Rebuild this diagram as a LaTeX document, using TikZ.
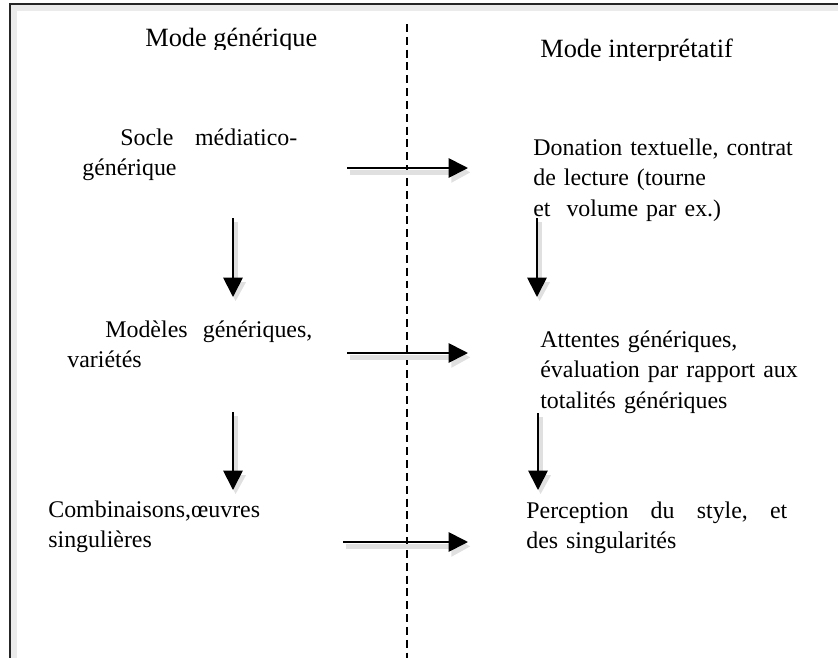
\documentclass[tikz,border=0pt]{standalone}
\usepackage{fontspec}
\setmainfont{Liberation Serif}
\usetikzlibrary{arrows.meta}

\begin{document}
\begin{tikzpicture}[
    texte/.style={inner sep=0pt, anchor=base west, align=left, font=\fontsize{13.6pt}{17.4pt}\selectfont},
    titre/.style={inner sep=0pt, anchor=base west, font=\fontsize{15pt}{18pt}\selectfont},
    fleche/.style={-{Triangle[length=11pt,width=11pt]}, line width=1pt,
        preaction={draw=black!12, line width=3pt, -{Triangle[length=11pt,width=11pt]},
            transform canvas={xshift=1.5pt,yshift=-2.5pt}}},
    cadre/.style={line width=1.1pt, draw=black!85,
        preaction={draw=black!8, line width=4pt, transform canvas={xshift=2pt,yshift=-2pt}}}
    ]
    \useasboundingbox (0,0) rectangle (16.76,-13.16);

    % cadre et separation
    \draw[cadre] (16.76,-0.08) -- (0.2,-0.08) -- (0.2,-13.16);
    \draw[line width=0.7pt, dash pattern=on 4.5pt off 2.8pt] (8.14,-0.48) -- (8.14,-13.16);

    % titres (coupes en bas)
    \begin{scope}
        \clip (2.7,-0.4) rectangle (6.8,-0.98);
        \node[titre] (gen) at (2.90,-0.92) {Mode générique};
    \end{scope}
    \begin{scope}
        \clip (10.6,-0.6) rectangle (15.2,-1.20);
        \node[titre] (interp) at (10.80,-1.14) {Mode interprétatif};
    \end{scope}

    % colonne gauche
    \node[texte, text width=4.30cm] (socle) at (1.64,-2.90) {\hspace*{0.76cm}Socle\hfill médiatico-\\générique};
    \node[texte, text width=4.90cm] (modeles) at (1.34,-6.74) {\hspace*{0.76cm}Modèles\hfill génériques,\\variétés};
    \node[texte, text width=5cm] (combi) at (0.96,-10.34) {Combinaisons,œuvres\\singulières};

    % colonne droite
    \node[texte, text width=5.6cm] (donation) at (10.66,-3.10) {Donation textuelle, contrat\\de lecture (tourne\\et~ volume par ex.)};
    \node[texte, text width=5.6cm] (attentes) at (10.80,-6.94) {Attentes génériques,\\évaluation par rapport aux\\totalités génériques};
    \node[texte, text width=5.22cm] (perception) at (10.52,-10.36) {Perception\hfill du\hfill style,\hfill et\\des singularités};

    % extremites des fleches
    \coordinate (h1a) at (6.94,-3.36);
    \coordinate (h1b) at (9.36,-3.36);
    \coordinate (h2a) at (6.94,-7.06);
    \coordinate (h2b) at (9.36,-7.06);
    \coordinate (h3a) at (6.86,-10.84);
    \coordinate (h3b) at (9.36,-10.84);
    \coordinate (g1a) at (4.66,-4.36);
    \coordinate (g1b) at (4.66,-5.94);
    \coordinate (g2a) at (4.66,-8.24);
    \coordinate (g2b) at (4.66,-9.80);
    \coordinate (d1a) at (10.74,-4.36);
    \coordinate (d1b) at (10.74,-5.94);
    \coordinate (d2a) at (10.76,-8.26);
    \coordinate (d2b) at (10.76,-9.80);

    \draw[fleche] (h1a) -- (h1b);
    \draw[fleche] (h2a) -- (h2b);
    \draw[fleche] (h3a) -- (h3b);
    \draw[fleche] (g1a) -- (g1b);
    \draw[fleche] (g2a) -- (g2b);
    \draw[fleche] (d1a) -- (d1b);
    \draw[fleche] (d2a) -- (d2b);
\end{tikzpicture}
\end{document}
